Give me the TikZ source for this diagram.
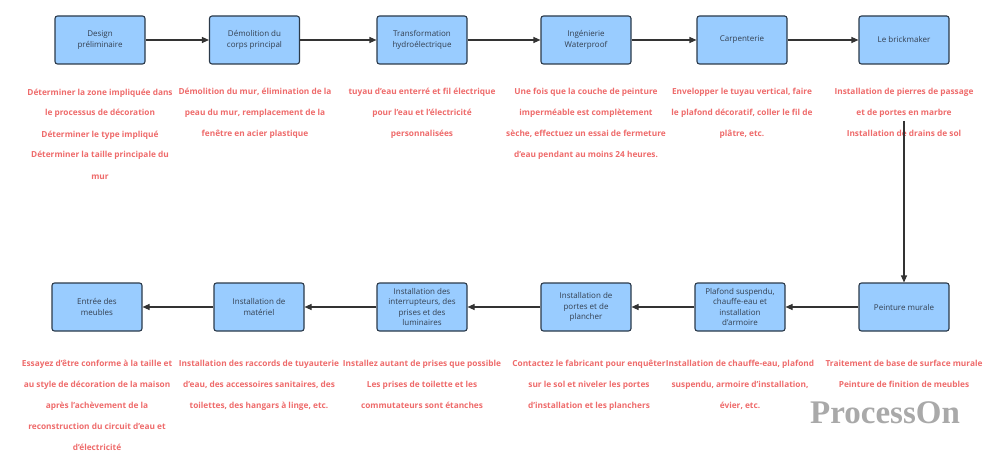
\documentclass[tikz,border=0pt]{standalone}
\usepackage{fontspec}
\setmainfont{Open Sans}
\newfontfamily\wmfont{Liberation Serif}
\usetikzlibrary{arrows.meta}
\definecolor{boxfill}{HTML}{99CCFF}
\definecolor{boxline}{HTML}{2B3A4A}
\definecolor{boxtext}{HTML}{333F50}
\definecolor{redtxt}{HTML}{EE6B6B}
\definecolor{arrowc}{HTML}{333333}
\definecolor{wmgray}{HTML}{A9A9A9}
\begin{document}
\begin{tikzpicture}[x=1pt,y=-1pt,
  stepbox/.style={draw=boxline, fill=boxfill, line width=1.1pt, rounded corners=2.5pt,
    minimum width=90pt, minimum height=48pt, align=center,
    font=\fontsize{8}{10.3}\selectfont, text=boxtext, inner sep=1pt},
  note/.style={align=center, text=redtxt, font=\bfseries\fontsize{8.3}{21}\selectfont,
    anchor=base, inner sep=0pt},
  flow/.style={draw=arrowc, line width=1.1pt, -{Triangle[length=7pt,width=6pt]}}]
\useasboundingbox (0,0) rectangle (1000,473);
% top row
\node[stepbox] (b1) at (100,40) {Design\\préliminaire};
\node[stepbox] (b2) at (254.5,40) {Démolition du\\corps principal};
\node[stepbox] (b3) at (422,40) {Transformation\\hydroélectrique};
\node[stepbox] (b4) at (586,40) {Ingénierie\\Waterproof};
\node[stepbox] (b5) at (742,40) {Carpenterie};
\node[stepbox] (b6) at (904,40) {Le brickmaker};
% bottom row
\node[stepbox] (c6) at (904,307) {Peinture murale};
\node[stepbox] (c5) at (740,307) {Plafond suspendu,\\chauffe-eau et\\installation\\d’armoire};
\node[stepbox] (c4) at (586,307) {Installation de\\portes et de\\plancher};
\node[stepbox] (c3) at (422,307) {Installation des\\interrupteurs, des\\prises et des\\luminaires};
\node[stepbox] (c2) at (259,307) {Installation de\\matériel};
\node[stepbox] (c1) at (97,307) {Entrée des\\meubles};
% notes top (anchor = baseline of last line; first baseline at 95)
\node[note] (n1) at (100,179) {Déterminer la zone impliquée dans\\le processus de décoration\\Déterminer le type impliqué\\Déterminer la taille principale du\\mur};
\node[note] (n2) at (255,137) {Démolition du mur, élimination de la\\peau du mur, remplacement de la\\fenêtre en acier plastique};
\node[note] (n3) at (422,137) {tuyau d’eau enterré et fil électrique\\pour l’eau et l’électricité\\personnalisées};
\node[note] (n4) at (586,158) {Une fois que la couche de peinture\\imperméable est complètement\\sèche, effectuez un essai de fermeture\\d’eau pendant au moins 24 heures.};
\node[note] (n5) at (742,137) {Envelopper le tuyau vertical, faire\\le plafond décoratif, coller le fil de\\plâtre, etc.};
\node[note] (n6) at (904,137) {Installation de pierres de passage\\et de portes en marbre\\Installation de drains de sol};
% notes bottom (first baseline at 366)
\node[note] (m1) at (97,450) {Essayez d’être conforme à la taille et\\au style de décoration de la maison\\après l’achèvement de la\\reconstruction du circuit d’eau et\\d’électricité};
\node[note] (m2) at (259,408) {Installation des raccords de tuyauterie\\d’eau, des accessoires sanitaires, des\\toilettes, des hangars à linge, etc.};
\node[note] (m3) at (422,408) {Installez autant de prises que possible\\Les prises de toilette et les\\commutateurs sont étanches};
\node[note] (m4) at (589,408) {Contactez le fabricant pour enquêter\\sur le sol et niveler les portes\\d’installation et les planchers};
\node[note] (m5) at (740,408) {Installation de chauffe-eau, plafond\\suspendu, armoire d’installation,\\évier, etc.};
\node[note] (m6) at (904,387) {Traitement de base de surface murale\\Peinture de finition de meubles};
% connectors
\draw[flow] (b1) -- (b2);
\draw[flow] (b2) -- (b3);
\draw[flow] (b3) -- (b4);
\draw[flow] (b4) -- (b5);
\draw[flow] (b5) -- (b6);
\coordinate (v0) at (904,121);
\draw[flow] (v0) -- (c6);
\draw[flow] (c6) -- (c5);
\draw[flow] (c5) -- (c4);
\draw[flow] (c4) -- (c3);
\draw[flow] (c3) -- (c2);
\draw[flow] (c2) -- (c1);
% watermark
\node[text=wmgray, font=\wmfont\bfseries\fontsize{33}{33}\selectfont, inner sep=0pt] (wm) at (885,413) {ProcessOn};
\end{tikzpicture}
\end{document}
